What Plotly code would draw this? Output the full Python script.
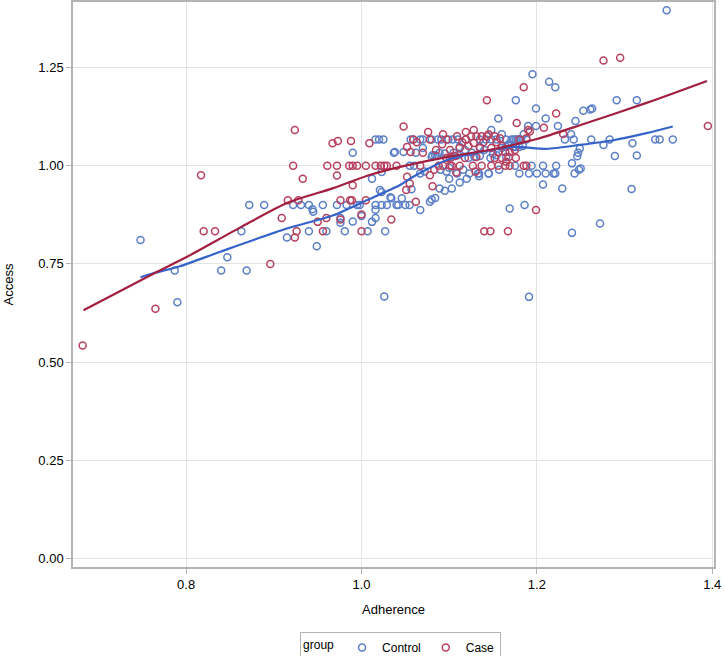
import plotly.graph_objects as go

# ---------------- data ----------------
control_x = [
    0.748, 0.787, 0.790, 0.840, 0.847, 0.869, 0.863, 0.872, 0.889,
    0.915, 0.922, 0.931, 0.940, 0.944, 0.945, 0.940, 0.949, 0.956, 0.960, 0.972,
    0.976, 0.976, 0.981, 0.983, 0.990, 0.990, 0.995, 0.998, 1.000, 1.007,
    1.012, 1.016, 1.016, 1.016, 1.023, 1.027, 1.026, 1.033, 1.040, 1.023,
    1.012, 1.037, 1.016, 1.020, 1.025,
    1.038, 1.048, 1.081, 1.084, 1.089, 1.095, 1.055, 1.023, 1.067, 1.021,
    1.034, 1.046, 1.029, 1.042, 1.050, 1.055, 1.057, 1.067, 1.078, 1.080,
    1.084, 1.089, 1.095, 1.103, 1.112, 1.133, 1.134, 1.145, 1.169, 1.186,
    1.191, 1.207, 1.229, 1.240, 1.272, 1.289, 1.308, 1.240, 1.243, 1.248,
    1.246, 1.219, 1.221, 1.222, 1.207, 1.210, 1.194, 1.191, 1.200,
    1.056, 1.059, 1.067, 1.070, 1.080, 1.087, 1.091, 1.099, 1.104, 1.110,
    1.119, 1.135, 1.142, 1.148, 1.154, 1.165, 1.171, 1.174, 1.176, 1.180,
    1.182, 1.188,
    1.112, 1.135, 1.165, 1.173, 1.176, 1.180,
    1.080, 1.086, 1.097, 1.103, 1.110, 1.122, 1.129, 1.135, 1.147, 1.154, 1.165,
    1.090, 1.097, 1.109, 1.116, 1.123, 1.134, 1.145, 1.157,
    1.156, 1.148, 1.190, 1.199, 1.175, 1.180,
    1.348, 1.195, 1.214, 1.221, 1.176, 1.199, 1.210, 1.224, 1.244, 1.253,
    1.261, 1.263, 1.291, 1.314, 1.239, 1.232, 1.242, 1.262, 1.276, 1.283,
    1.309, 1.335, 1.340, 1.355, 1.249, 1.247, 1.314, 1.250,
    1.060, 1.072, 1.100, 1.105, 1.118, 1.126, 1.140, 1.150, 1.160, 1.168,
    1.184, 1.062, 1.070, 1.120, 1.100, 1.178, 1.185, 1.160,
]
control_y = [
    0.811, 0.733, 0.652, 0.733, 0.767, 0.733, 0.833, 0.900, 0.900,
    0.817, 0.900, 0.900, 0.900, 0.889, 0.883, 0.833, 0.795, 0.900, 0.833, 0.900,
    0.855, 0.867, 0.833, 0.900, 0.858, 1.033, 0.900, 0.900, 0.872, 0.833,
    0.857, 0.867, 0.888, 0.900, 0.900, 0.833, 0.667, 0.920, 0.900, 0.933,
    0.967, 1.033, 1.067, 1.067, 1.067,
    1.035, 1.035, 1.027, 1.027, 1.033, 1.031, 1.000, 0.984, 0.980, 0.938,
    0.917, 0.917, 0.900, 0.900, 0.900, 0.900, 0.940, 0.887, 0.908, 0.914,
    0.918, 0.942, 0.936, 0.942, 0.957, 0.980, 0.973, 0.980, 0.891, 0.900,
    0.666, 0.952, 0.942, 0.829, 0.853, 1.025, 0.941, 1.006, 0.980, 0.990,
    1.024, 0.980, 0.980, 1.000, 1.000, 0.980, 1.000, 0.980, 0.980,
    1.067, 1.067, 1.067, 1.067, 1.067, 1.067, 1.067, 1.067, 1.067, 1.067,
    1.067, 1.067, 1.067, 1.067, 1.067, 1.067, 1.067, 1.067, 1.067, 1.067,
    1.067, 1.067,
    1.048, 1.048, 1.048, 1.048, 1.048, 1.048,
    1.022, 1.025, 1.020, 1.022, 1.027, 1.020, 1.022, 1.025, 1.020, 1.027, 1.022,
    0.990, 0.985, 0.980, 0.990, 0.980, 0.980, 0.980, 0.990,
    1.120, 1.091, 1.101, 1.101, 1.000, 0.980,
    1.396, 1.233, 1.214, 1.200, 1.167, 1.146, 1.120, 1.101, 1.114, 1.140,
    1.143, 1.146, 1.167, 1.167, 1.080, 1.067, 1.067, 1.067, 1.053, 1.067,
    1.057, 1.067, 1.067, 1.067, 1.044, 1.033, 1.026, 0.993,
    1.000, 0.985, 0.995, 1.033, 1.040, 1.033, 1.040, 1.030, 1.045, 1.055,
    1.050, 1.033, 1.045, 0.967, 0.967, 1.067, 1.080, 1.080,
]

case_x = [
    0.682, 0.765, 0.817, 0.820, 0.833, 0.896, 0.909, 0.916, 0.924, 0.922,
    0.933, 0.926, 0.924, 0.928, 0.950, 0.960, 0.956, 0.961, 0.972, 0.972,
    0.967, 0.973, 0.988, 0.986, 0.990, 0.995, 1.005, 0.990, 0.976, 0.987,
    0.989, 0.976, 1.000, 1.000, 1.005, 1.009, 1.016, 1.022, 1.026, 1.034,
    1.029, 1.040, 1.052, 1.051, 1.055, 1.062, 1.067, 1.078, 1.081, 1.088,
    1.093, 1.101, 1.103, 1.112, 1.127, 1.137, 1.148, 1.156, 1.164, 1.169,
    1.165, 1.185, 1.188, 1.199, 1.140, 1.147, 1.167,
    1.048, 1.076, 1.093, 1.119, 1.128, 1.143, 1.177, 1.185, 1.208, 1.222,
    1.230, 1.190, 1.192,
    1.059, 1.078, 1.097, 1.109, 1.119, 1.131, 1.137, 1.143, 1.152, 1.158, 1.188,
    1.052, 1.056, 1.063, 1.092, 1.101, 1.112, 1.122, 1.128, 1.135, 1.139,
    1.148, 1.154, 1.156, 1.164, 1.169,
    1.097, 1.101, 1.118, 1.131, 1.152, 1.160, 1.168,
    1.276, 1.295, 1.395,
    1.070, 1.085, 1.107, 1.115, 1.125, 1.145, 1.160, 1.175, 1.180, 1.083,
    1.108, 1.130, 1.176,
]
case_y = [
    0.542, 0.636, 0.976, 0.833, 0.833, 0.750, 0.867, 0.912, 1.091, 1.000,
    0.967, 0.833, 0.817, 0.912, 0.857, 0.867, 0.833, 1.000, 1.000, 0.975,
    1.057, 1.063, 1.063, 1.000, 1.000, 1.000, 1.000, 0.950, 0.912, 0.912,
    0.912, 0.863, 0.876, 0.833, 0.912, 1.057, 1.000, 1.000, 1.000, 0.863,
    1.000, 1.000, 0.972, 0.938, 0.955, 0.908, 1.000, 0.976, 0.948, 1.000,
    1.000, 1.000, 1.000, 1.000, 1.000, 1.000, 1.000, 1.000, 1.000, 1.000,
    1.010, 1.000, 1.000, 0.887, 0.833, 0.833, 0.833,
    1.100, 1.086, 1.080, 1.086, 1.091, 1.167, 1.109, 1.200, 1.097, 1.133,
    1.081, 1.091, 1.087,
    1.067, 1.067, 1.067, 1.075, 1.067, 1.075, 1.075, 1.075, 1.075, 1.070, 1.070,
    1.048, 1.035, 1.060, 1.055, 1.040, 1.045, 1.050, 1.058, 1.045, 1.060,
    1.045, 1.060, 1.035, 1.035, 1.035,
    1.020, 1.020, 1.020, 1.022, 1.020, 1.020, 1.022,
    1.268, 1.275, 1.101,
    1.033, 1.040, 1.025, 1.060, 1.075, 1.080, 1.050, 1.040, 1.067, 0.990,
    0.983, 0.985, 1.020,
]

control_fit_x = [0.748, 0.761, 0.793, 0.839, 0.915, 0.968, 1.006, 1.044, 1.059,
                 1.097, 1.136, 1.173, 1.211, 1.249, 1.287, 1.325, 1.355]
control_fit_y = [0.716, 0.725, 0.744, 0.781, 0.840, 0.874, 0.912, 0.951, 0.972,
                 1.014, 1.035, 1.048, 1.043, 1.053, 1.065, 1.083, 1.100]

case_fit_x = [0.683, 0.767, 0.801, 0.862, 0.915, 0.968, 1.010, 1.044, 1.097,
              1.150, 1.200, 1.249, 1.325, 1.394]
case_fit_y = [0.632, 0.730, 0.768, 0.843, 0.905, 0.943, 0.977, 0.997, 1.022,
              1.042, 1.068, 1.103, 1.160, 1.216]

x_ticks = [0.8, 1.0, 1.2, 1.4]
x_tick_labels = ["0.8", "1.0", "1.2", "1.4"]
y_ticks = [0.0, 0.25, 0.5, 0.75, 1.0, 1.25]
y_tick_labels = ["0.00", "0.25", "0.50", "0.75", "1.00", "1.25"]

# ---------------- styles ----------------
BLUE_M = "#5B7FC7"
RED_M = "#B8405E"
BLUE_L = "#3563C9"
RED_L = "#A21F3F"
FONT = "Liberation Sans, Arial, sans-serif"
AX = "#B4B4B4"

fig = go.Figure()
fig.add_trace(go.Scatter(
    x=control_x, y=control_y, mode="markers", name="Control",
    marker=dict(symbol="circle-open", size=7, color=BLUE_M, line=dict(width=1.5, color=BLUE_M)),
))
fig.add_trace(go.Scatter(
    x=case_x, y=case_y, mode="markers", name="Case",
    marker=dict(symbol="circle-open", size=7, color=RED_M, line=dict(width=1.5, color=RED_M)),
))
fig.add_trace(go.Scatter(
    x=control_fit_x, y=control_fit_y, mode="lines", showlegend=False,
    line=dict(color=BLUE_L, width=2.2, shape="spline", smoothing=0.7),
))
fig.add_trace(go.Scatter(
    x=case_fit_x, y=case_fit_y, mode="lines", showlegend=False,
    line=dict(color=RED_L, width=2.2, shape="spline", smoothing=0.7),
))

fig.update_layout(
    width=725, height=656,
    margin=dict(l=73, r=11, t=2, b=89, autoexpand=False),
    paper_bgcolor="white", plot_bgcolor="white",
    font=dict(family=FONT, size=12, color="#000"),
    xaxis=dict(
        range=[0.671, 1.402], tickvals=x_ticks, ticktext=x_tick_labels,
        automargin=False,
        showgrid=True, gridcolor="#E4E4E4", gridwidth=1, zeroline=False,
        showline=True, mirror=True, linecolor=AX, linewidth=1.5,
        ticks="outside", ticklen=5, tickcolor=AX,
        tickfont=dict(size=13, color="#000"),
        title=dict(text="Adherence", font=dict(size=13, color="#000"), standoff=14),
    ),
    yaxis=dict(
        range=[-0.022, 1.417], tickvals=y_ticks, ticktext=y_tick_labels,
        automargin=False,
        showgrid=True, gridcolor="#E4E4E4", gridwidth=1, zeroline=False,
        showline=True, mirror=True, linecolor=AX, linewidth=1.5,
        ticks="outside", ticklen=5, tickcolor=AX,
        tickfont=dict(size=13, color="#000"),
        title=dict(text="Access", font=dict(size=13, color="#000"), standoff=22),
    ),
    legend=dict(
        orientation="h", x=0.511, xanchor="center", y=-0.115, yanchor="top",
        bordercolor=AX, borderwidth=1, bgcolor="white",
        title=dict(text="group", side="left", font=dict(size=12)),
        font=dict(size=12), itemwidth=30, tracegroupgap=0,
    ),
)

fig.write_html(
    "out.html",
    config={"displayModeBar": False},
    post_script="document.body.style.margin='0';document.body.style.padding='0';",
)
